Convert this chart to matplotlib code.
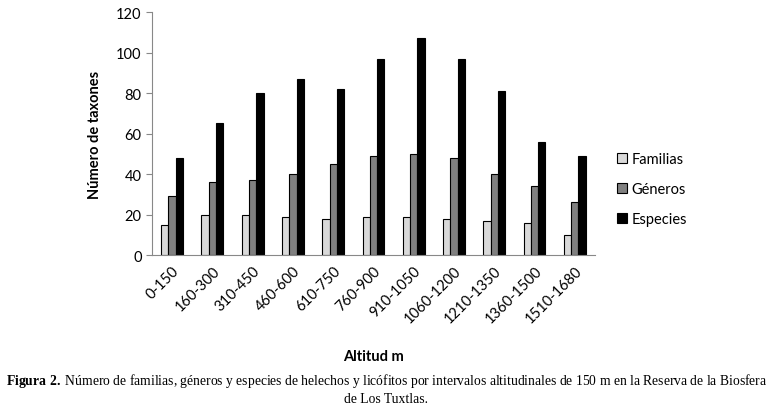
import numpy as np
import matplotlib.pyplot as plt

intervalos = ['0-150', '160-300', '310-450', '460-600', '610-750', '760-900',
              '910-1050', '1060-1200', '1210-1350', '1360-1500', '1510-1680']
familias = [15, 20, 20, 19, 18, 19, 19, 18, 17, 16, 10]
generos = [29, 36, 37, 40, 45, 49, 50, 48, 40, 34, 26]
especies = [48, 65, 80, 87, 82, 97, 107, 97, 81, 56, 49]

plt.rcParams['font.family'] = ['Lato', 'DejaVu Sans']
plt.rcParams['mathtext.fontset'] = 'custom'
plt.rcParams['mathtext.bf'] = 'Liberation Serif:bold'
plt.rcParams['mathtext.rm'] = 'Liberation Serif'

fig = plt.figure(figsize=(7.73, 4.10), dpi=100)
ax = fig.add_axes([0.1966, 0.3756, 0.573, 0.5924])

x = np.arange(len(intervalos))
w = 0.18
ax.bar(x - w, familias, w, color='#d9d9d9', edgecolor='black', linewidth=0.8, label='Familias')
ax.bar(x, generos, w, color='#808080', edgecolor='black', linewidth=0.8, label='Géneros')
ax.bar(x + w, especies, w, color='black', edgecolor='black', linewidth=0.8, label='Especies')

ax.set_xlim(-0.5, len(intervalos) - 0.5)
ax.set_ylim(0, 120)
ax.set_yticks(range(0, 121, 20))
ax.set_xticks(x)
ax.set_xticklabels(intervalos, rotation=45, ha='right', rotation_mode='anchor', fontsize=10.5)
ax.tick_params(axis='y', labelsize=10.5, length=4, color='#888888')
ax.tick_params(axis='x', length=0, pad=6)
for s in ['top', 'right']:
    ax.spines[s].set_visible(False)
for s in ['left', 'bottom']:
    ax.spines[s].set_color('#888888')

ax.set_ylabel('Número de taxones', fontsize=10.5, fontweight='bold', labelpad=10)
ax.set_xlabel('Altitud m', fontsize=10.5, fontweight='bold', labelpad=17)

ax.legend(loc='center left', bbox_to_anchor=(1.02, 0.27), frameon=False, fontsize=10.5,
          handlelength=0.7, handleheight=0.7, handletextpad=0.3, labelspacing=1.1)

fig.text(0.5, 0.06, r'$\mathbf{Figura\ 2.}\,$Número de familias, géneros y especies de helechos y licófitos por intervalos altitudinales de 150 m en la Reserva de la Biosfera',
         ha='center', fontsize=9.8, family='Liberation Serif')
fig.text(0.5, 0.018, 'de Los Tuxtlas.', ha='center', fontsize=9.8, family='Liberation Serif')

fig.savefig('out.png', dpi=100)
